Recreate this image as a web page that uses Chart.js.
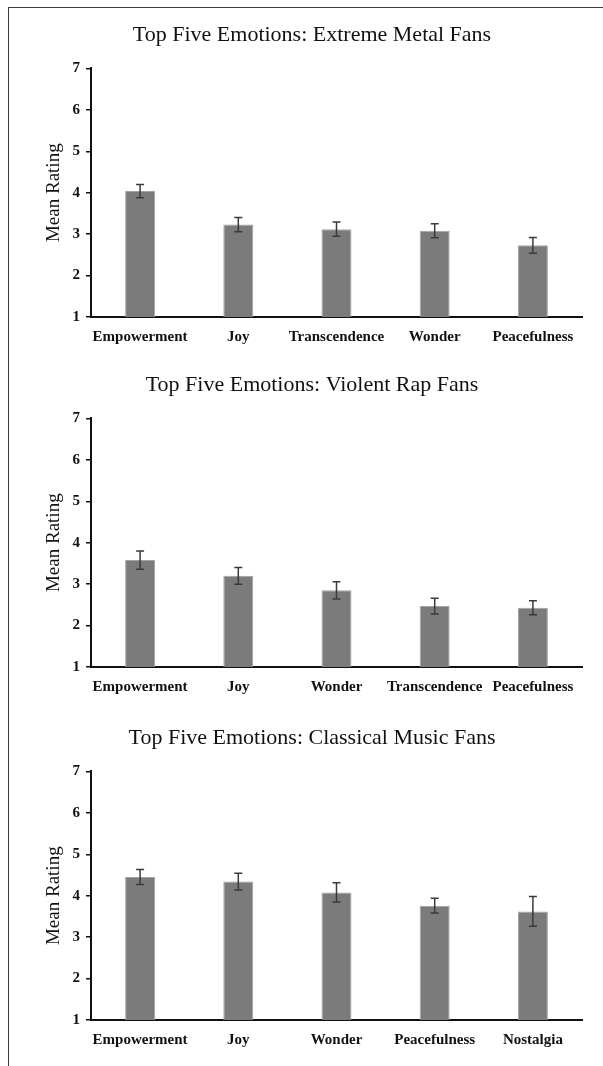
<!DOCTYPE html>
<html>
<head>
<meta charset="utf-8">
<script src="https://cdn.jsdelivr.net/npm/chart.js@4.4.0/dist/chart.umd.min.js"></script>
<style>
  body { margin: 0; background: #fff; width: 603px; height: 1066px; overflow: hidden; position: relative; }
  .frame { position: absolute; left: 8px; top: 7px; right: -2px; bottom: -2px; border-top: 1.5px solid #3a3a3a; border-left: 1.5px solid #3a3a3a; }
  canvas { position: absolute; left: 0; }
</style>
</head>
<body>
<div class="frame"></div>
<canvas id="metalChart" width="603" height="350" style="top:0px"></canvas>
<canvas id="rapChart" width="603" height="350" style="top:350px"></canvas>
<canvas id="classicalChart" width="603" height="350" style="top:703px"></canvas>
<script>
// Chart data
const metalLabels = ['Empowerment', 'Joy', 'Transcendence', 'Wonder', 'Peacefulness'];
const metalMeans = [4.04, 3.23, 3.12, 3.08, 2.73];
const metalErrors = [0.16, 0.17, 0.17, 0.17, 0.19];

const rapLabels = ['Empowerment', 'Joy', 'Wonder', 'Transcendence', 'Peacefulness'];
const rapMeans = [3.58, 3.20, 2.85, 2.47, 2.43];
const rapErrors = [0.22, 0.20, 0.21, 0.19, 0.17];

const classicalLabels = ['Empowerment', 'Joy', 'Wonder', 'Peacefulness', 'Nostalgia'];
const classicalMeans = [4.45, 4.34, 4.08, 3.76, 3.62];
const classicalErrors = [0.18, 0.20, 0.23, 0.18, 0.36];

const yTicks = [1, 2, 3, 4, 5, 6, 7];

Chart.defaults.font.family = "'Liberation Serif', 'Times New Roman', serif";
Chart.defaults.color = '#111';

// draws the error bars on top of each bar
const errorBars = {
    id: 'errorBars',
    afterDatasetsDraw(chart, args, opts) {
        const ctx = chart.ctx;
        const yScale = chart.scales.y;
        const meta = chart.getDatasetMeta(0);
        const errs = opts.errors || [];
        ctx.save();
        ctx.strokeStyle = '#3a3a3a';
        ctx.lineWidth = 1.5;
        meta.data.forEach((bar, i) => {
            const v = chart.data.datasets[0].data[i];
            const top = yScale.getPixelForValue(v + errs[i]);
            const bot = yScale.getPixelForValue(v - errs[i]);
            ctx.beginPath();
            ctx.moveTo(bar.x, top);
            ctx.lineTo(bar.x, bot);
            ctx.moveTo(bar.x - 4, top);
            ctx.lineTo(bar.x + 4, top);
            ctx.moveTo(bar.x - 4, bot);
            ctx.lineTo(bar.x + 4, bot);
            ctx.stroke();
        });
        ctx.restore();
    }
};

function makeChart(id, title, labels, means, errors) {
    const ctx = document.getElementById(id).getContext('2d');
    return new Chart(ctx, {
        type: 'bar',
        data: {
            labels: labels,
            datasets: [{
                data: means,
                backgroundColor: '#7b7b7b',
                borderColor: '#a3a3a3',
                borderWidth: 1,
                barPercentage: 0.305,
                categoryPercentage: 1.0
            }]
        },
        options: {
            responsive: false,
            animation: false,
            layout: { padding: { left: 42, right: 21, top: 0, bottom: 0 } },
            plugins: {
                legend: { display: false },
                tooltip: { enabled: false },
                title: {
                    display: true,
                    text: title,
                    color: '#111',
                    font: { size: 22, weight: 'normal' },
                    padding: { top: 22, bottom: 20 }
                },
                errorBars: { errors: errors }
            },
            scales: {
                x: {
                    grid: { display: false, drawTicks: false },
                    border: { display: true, color: '#111', width: 2 },
                    ticks: { font: { size: 15, weight: 'bold' }, padding: 11, maxRotation: 0, autoSkip: false },
                    afterFit(scale) { scale.height = 33; }
                },
                y: {
                    min: 1,
                    max: 7,
                    afterBuildTicks(scale) { scale.ticks = yTicks.map(v => ({ value: v })); },
                    grid: { drawOnChartArea: false, drawTicks: true, tickLength: 5, color: '#111', lineWidth: 1.5 },
                    border: { display: true, color: '#111', width: 2 },
                    ticks: { font: { size: 15, weight: 'bold' }, padding: 6 },
                    title: {
                        display: true,
                        text: 'Mean Rating',
                        color: '#111',
                        font: { size: 19, weight: 'normal' },
                        padding: { top: 1, bottom: 0 }
                    },
                    afterFit(scale) { scale.width = 49; }
                }
            }
        },
        plugins: [errorBars]
    });
}

makeChart('metalChart', 'Top Five Emotions: Extreme Metal Fans', metalLabels, metalMeans, metalErrors);
makeChart('rapChart', 'Top Five Emotions: Violent Rap Fans', rapLabels, rapMeans, rapErrors);
makeChart('classicalChart', 'Top Five Emotions: Classical Music Fans', classicalLabels, classicalMeans, classicalErrors);
</script>
</body>
</html>
